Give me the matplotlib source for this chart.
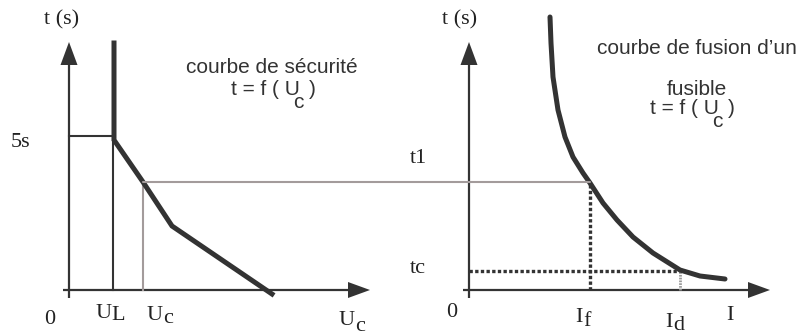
# Safety curve vs fuse melting curve (schematic)
import matplotlib.pyplot as plt
from matplotlib.patches import ConnectionPatch

# ---- data (diagram units, origin at axes crossing) ----
# safety curve t = f(Uc)
secu_u = [45, 45, 74, 103, 203]
secu_t = [247, 150, 108, 64, -4]
u_L = 44
u_c = 74
t_5s = 154
t_1 = 108

# fuse melting curve
fuse_i = [81, 82, 84, 89, 96, 104, 114, 121, 134, 148, 164, 184, 211, 231, 256]
fuse_t = [273, 247, 213, 180, 153, 133, 117, 107, 87, 70, 53, 37, 20, 14, 11]
i_f = 121
i_d = 211
t_c = 19

# axis extents
axis_len_x = 301
axis_len_y = 248

dark = '#333333'
grey = '#a39b9b'
serif = 'Liberation Serif'
sans = 'Liberation Sans'

def draw_axes(ax):
    """Draw x and y axes with filled arrow heads"""
    ax.plot([-6, axis_len_x - 20], [0, 0], color=dark, lw=1.6, solid_capstyle='butt')
    ax.plot([0, 0], [-8, axis_len_y - 20], color=dark, lw=1.6, solid_capstyle='butt')
    ax.fill([axis_len_x - 22, axis_len_x, axis_len_x - 22], [8, 0, -8], color=dark, lw=0)
    ax.fill([-8.5, 0, 8.5], [axis_len_y - 23, axis_len_y, axis_len_y - 23], color=dark, lw=0)

def label(ax, x, y, main, sub=None, dx=0, dy=-3, size=16, **kw):
    """Serif label with an optional lowered second letter"""
    ax.text(x, y, main, family=serif, fontsize=size, color='#222222',
            ha='right' if sub else 'center', va='baseline', **kw)
    if sub:
        ax.text(x + dx, y + dy, sub, family=serif, fontsize=size,
                color='#222222', ha='left', va='baseline', **kw)

def formula(ax, x, y):
    """Draw 't = f ( Uc )' with the c tucked under the U"""
    kw = dict(family=sans, fontsize=15, color=dark, va='baseline')
    ax.text(x, y, 't = f ( U', ha='right', **kw)
    ax.text(x - 7, y - 13, 'c', ha='left', **kw)
    ax.text(x + 9, y, ')', ha='left', **kw)

fig = plt.figure(figsize=(8.05, 3.36), dpi=100)

ax_l = fig.add_axes([0, 0, 1, 1])
ax_l.set_xlim(-69, 805 - 69)
ax_l.set_ylim(-(336 - 290), 290)
ax_l.axis('off')

ax_r = fig.add_axes([0, 0, 1, 1])
ax_r.set_xlim(-469, 805 - 469)
ax_r.set_ylim(-(336 - 290), 290)
ax_r.axis('off')

# ---- left panel: safety curve ----
draw_axes(ax_l)
ax_l.plot([0, u_L], [t_5s, t_5s], color=dark, lw=1.5)
ax_l.plot([u_L, u_L], [0, t_5s], color=dark, lw=1.5)
ax_l.plot([u_c, u_c], [0, t_1], color=grey, lw=1.5)
ax_l.plot(secu_u, secu_t, color=dark, lw=3.6, solid_joinstyle='miter')

# ---- right panel: fuse curve ----
draw_axes(ax_r)
ax_r.plot([0, i_d], [t_c, t_c], color=dark, lw=2.4, ls=(0, (1.0, 0.7)))
ax_r.plot([i_f, i_f], [0, t_1], color=dark, lw=2.4, ls=(0, (1.0, 0.7)))
ax_r.plot([i_d, i_d], [0, t_c], color='#999999', lw=2.0, ls=(0, (0.6, 0.4)))
ax_r.plot(fuse_i, fuse_t, color=dark, lw=3.6, solid_capstyle='round',
          solid_joinstyle='round')

# t1 line joining both panels
con = ConnectionPatch(xyA=(u_c, t_1), coordsA=ax_l.transData,
                      xyB=(i_f, t_1), coordsB=ax_r.transData,
                      color=grey, lw=1.5)
fig.add_artist(con)

# ---- left labels ----
label(ax_l, -7, 266, 't (s)')
label(ax_l, -49, 143, '5s')
label(ax_l, -19, -34, '0')
label(ax_l, 43, -28, 'U', 'L', dx=-1, dy=-2)
label(ax_l, 94, -30, 'U', 'c', dx=0, dy=-3)
label(ax_l, 286, -35, 'U', 'c', dx=0, dy=-6)
ax_l.text(203, 217, 'courbe de sécurité', family=sans, fontsize=15,
          color=dark, ha='center', va='baseline')
formula(ax_l, 231, 195)

# ---- right labels ----
label(ax_r, -9, 266, 't (s)')
label(ax_r, -51, 127, 't1')
label(ax_r, -51, 17, 'tc')
label(ax_r, -17, -27, '0')
label(ax_r, 114, -32, 'I', 'f', dx=0, dy=-4)
label(ax_r, 204, -37, 'I', 'd', dx=0, dy=-3)
label(ax_r, 261, -30, 'I')
ax_r.text(228, 236, 'courbe de fusion d\u2019un', family=sans, fontsize=15,
          color=dark, ha='center', va='baseline')
ax_r.text(228, 195, 'fusible', family=sans, fontsize=15,
          color=dark, ha='center', va='baseline')
formula(ax_r, 250, 176)

fig.savefig('out.png', dpi=100)
